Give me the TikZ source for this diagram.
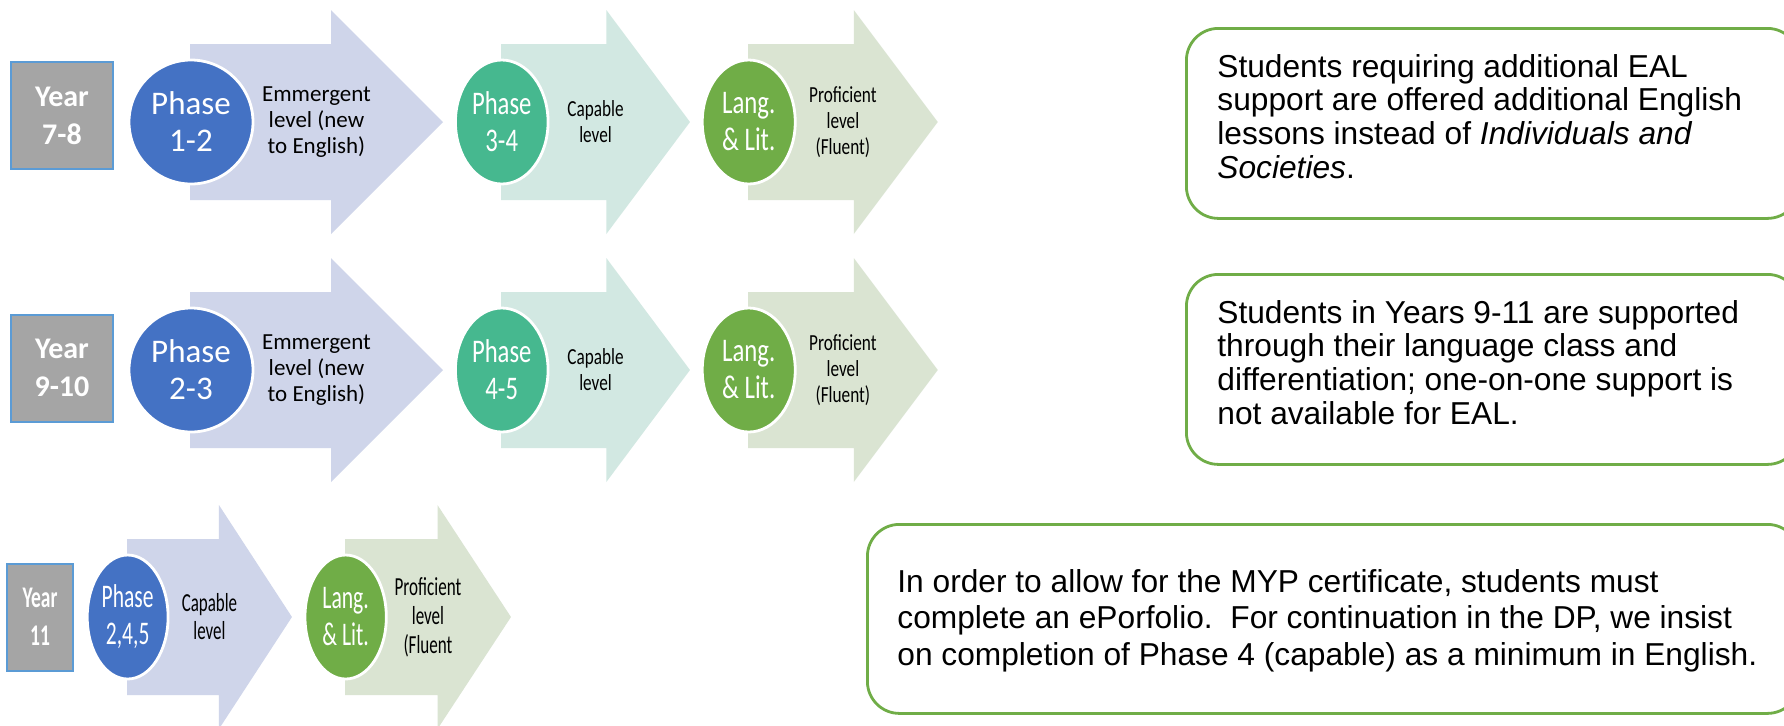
\documentclass[tikz,border=0pt]{standalone}
\usepackage{fontspec}
\setmainfont{Carlito}
\newfontfamily\arialfont{Liberation Sans}
\definecolor{cblue}{HTML}{4472C4}
\definecolor{ablue}{HTML}{CFD5EA}
\definecolor{cteal}{HTML}{46B88F}
\definecolor{ateal}{HTML}{D2E8E2}
\definecolor{cgreen}{HTML}{70AD47}
\definecolor{agreen}{HTML}{DAE4D2}
\definecolor{yeargray}{HTML}{A5A5A5}
\definecolor{yearblue}{HTML}{5B9BD5}
\definecolor{notegreen}{HTML}{70AD47}
\tikzset{
  circ/.style={circle, minimum size=62pt, inner sep=0pt, draw=white, line width=1.4pt,
    text=white, align=center, font=\fontsize{16.5}{18.5}\selectfont},
  atext/.style={align=center, text=black, inner sep=0pt},
  yearbox/.style={rectangle, fill=yeargray, draw=yearblue, line width=1pt,
    minimum width=51pt, minimum height=53.5pt, text=white, align=center,
    font=\bfseries\fontsize{15}{19}\selectfont, inner sep=0pt},
  notebox/.style={rectangle, draw=notegreen, line width=1.4pt, fill=white,
    rounded corners=16pt, anchor=north west, inner sep=0pt},
  notetext/.style={anchor=base west, inner sep=0pt, text=black},
}
\newcommand\ArrowUnit[9]{%
  \begin{scope}[shift={(#2,#3)}, xscale=#4, transform shape]
    \fill[#6] (0,-78) -- (141,-78) -- (141,-112) -- (253,0) -- (141,112) -- (141,78) -- (0,78) -- cycle;
    \node[circ, fill=#5] (#1c) at (1,0) {#7};
    \node[atext, font=#9] (#1t) at (126.5,0) {#8};
  \end{scope}}
\newcommand\YearUnit[5]{%
  \begin{scope}[shift={(#2,#3)}, xscale=#4, transform shape]
    \node[yearbox] (#1) at (0,0) {#5};
  \end{scope}}
\begin{document}
\begin{tikzpicture}[x=0.5pt,y=-0.5pt]
\clip (0,0) rectangle (1784,725);
\fill[white] (0,0) rectangle (1784,725);
% Row 1
\YearUnit{y1}{62}{115.5}{1}{Year\\7-8}
\ArrowUnit{r1a}{190}{122}{1}{cblue}{ablue}{Phase\\1-2}{Emmergent\\level (new\\to English)}{\fontsize{11.5}{13}\selectfont}
\ArrowUnit{r1b}{501}{122}{0.747}{cteal}{ateal}{Phase\\3-4}{Capable\\level}{\fontsize{11.5}{13}\selectfont}
\ArrowUnit{r1c}{748}{122}{0.75}{cgreen}{agreen}{Lang.\\\& Lit.}{Proficient\\level\\(Fluent)}{\fontsize{11.5}{13}\selectfont}
% Row 2
\YearUnit{y2}{62}{368}{1}{Year\\9-10}
\ArrowUnit{r2a}{190}{370}{1}{cblue}{ablue}{Phase\\2-3}{Emmergent\\level (new\\to English)}{\fontsize{11.5}{13}\selectfont}
\ArrowUnit{r2b}{501}{370}{0.747}{cteal}{ateal}{Phase\\4-5}{Capable\\level}{\fontsize{11.5}{13}\selectfont}
\ArrowUnit{r2c}{748}{370}{0.75}{cgreen}{agreen}{Lang.\\\& Lit.}{Proficient\\level\\(Fluent)}{\fontsize{11.5}{13}\selectfont}
% Row 3
\YearUnit{y3}{40}{617}{0.65}{Year\\11}
\ArrowUnit{r3a}{127}{617}{0.652}{cblue}{ablue}{Phase\\2,4,5}{Capable\\level}{\fontsize{13}{14}\selectfont}
\ArrowUnit{r3b}{345}{617}{0.656}{cgreen}{agreen}{Lang.\\\& Lit.}{Proficient\\level\\(Fluent}{\fontsize{13}{14.5}\selectfont}
% Note boxes
\node[notebox, minimum width=306.5pt, minimum height=95pt] (n1) at (1185,27) {};
\node[notetext] (n1t) at (1217,77) {\parbox[t]{340pt}{\arialfont\fontsize{15.85}{16.85}\selectfont
Students requiring additional EAL\\
support are offered additional English\\
lessons instead of \textit{Individuals and}\\
\textit{Societies}.}};
\node[notebox, minimum width=306.5pt, minimum height=95pt] (n2) at (1185,273) {};
\node[notetext] (n2t) at (1217,323) {\parbox[t]{340pt}{\arialfont\fontsize{15.85}{16.85}\selectfont
Students in Years 9-11 are supported\\
through their language class and\\
differentiation; one-on-one support is\\
not available for EAL.}};
\node[notebox, minimum width=466pt, minimum height=94.5pt] (n3) at (866,523) {};
\node[notetext] (n3t) at (897,592) {\parbox[t]{460pt}{\arialfont\fontsize{15.85}{18.25}\selectfont
In order to allow for the MYP certificate, students must\\
complete an ePorfolio.\ \ For continuation in the DP, we insist\\
on completion of Phase 4 (capable) as a minimum in English.}};
\end{tikzpicture}
\end{document}
